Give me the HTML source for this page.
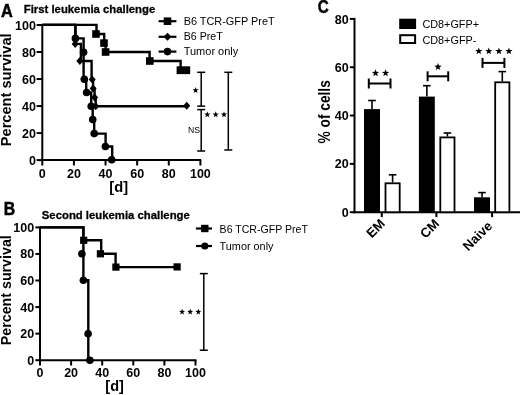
<!DOCTYPE html>
<html><head><meta charset="utf-8"><title>Figure</title>
<style>
html,body{margin:0;padding:0;background:#fff;}
body{width:520px;height:395px;overflow:hidden;font-family:"Liberation Sans",sans-serif;}
svg{display:block;will-change:transform;}
svg text{font-family:"Liberation Sans",sans-serif;fill:#000;}
</style></head><body>
<svg width="520" height="395" viewBox="0 0 520 395">
<rect width="520" height="395" fill="#fff"/>
<line x1="42.3" y1="24.0" x2="42.3" y2="161.1" stroke="#000" stroke-width="2" stroke-linecap="butt"/>
<line x1="41.3" y1="160.1" x2="201.2" y2="160.1" stroke="#000" stroke-width="2" stroke-linecap="butt"/>
<line x1="36.599999999999994" y1="160.1" x2="42.3" y2="160.1" stroke="#000" stroke-width="2" stroke-linecap="butt"/>
<text x="35.9" y="164.7" font-size="12.5" text-anchor="end" font-weight="bold" >0</text>
<line x1="36.599999999999994" y1="133.07999999999998" x2="42.3" y2="133.07999999999998" stroke="#000" stroke-width="2" stroke-linecap="butt"/>
<text x="35.9" y="137.67999999999998" font-size="12.5" text-anchor="end" font-weight="bold" >20</text>
<line x1="36.599999999999994" y1="106.06" x2="42.3" y2="106.06" stroke="#000" stroke-width="2" stroke-linecap="butt"/>
<text x="35.9" y="110.66" font-size="12.5" text-anchor="end" font-weight="bold" >40</text>
<line x1="36.599999999999994" y1="79.03999999999999" x2="42.3" y2="79.03999999999999" stroke="#000" stroke-width="2" stroke-linecap="butt"/>
<text x="35.9" y="83.63999999999999" font-size="12.5" text-anchor="end" font-weight="bold" >60</text>
<line x1="36.599999999999994" y1="52.019999999999996" x2="42.3" y2="52.019999999999996" stroke="#000" stroke-width="2" stroke-linecap="butt"/>
<text x="35.9" y="56.62" font-size="12.5" text-anchor="end" font-weight="bold" >80</text>
<line x1="36.599999999999994" y1="25.0" x2="42.3" y2="25.0" stroke="#000" stroke-width="2" stroke-linecap="butt"/>
<text x="35.9" y="29.6" font-size="12.5" text-anchor="end" font-weight="bold" >100</text>
<line x1="42.3" y1="160.1" x2="42.3" y2="165.5" stroke="#000" stroke-width="2" stroke-linecap="butt"/>
<text x="42.3" y="178.1" font-size="12.5" text-anchor="middle" font-weight="bold" >0</text>
<line x1="73.91999999999999" y1="160.1" x2="73.91999999999999" y2="165.5" stroke="#000" stroke-width="2" stroke-linecap="butt"/>
<text x="73.91999999999999" y="178.1" font-size="12.5" text-anchor="middle" font-weight="bold" >20</text>
<line x1="105.53999999999999" y1="160.1" x2="105.53999999999999" y2="165.5" stroke="#000" stroke-width="2" stroke-linecap="butt"/>
<text x="105.53999999999999" y="178.1" font-size="12.5" text-anchor="middle" font-weight="bold" >40</text>
<line x1="137.16" y1="160.1" x2="137.16" y2="165.5" stroke="#000" stroke-width="2" stroke-linecap="butt"/>
<text x="137.16" y="178.1" font-size="12.5" text-anchor="middle" font-weight="bold" >60</text>
<line x1="168.77999999999997" y1="160.1" x2="168.77999999999997" y2="165.5" stroke="#000" stroke-width="2" stroke-linecap="butt"/>
<text x="168.77999999999997" y="178.1" font-size="12.5" text-anchor="middle" font-weight="bold" >80</text>
<line x1="200.39999999999998" y1="160.1" x2="200.39999999999998" y2="165.5" stroke="#000" stroke-width="2" stroke-linecap="butt"/>
<text x="200.39999999999998" y="178.1" font-size="12.5" text-anchor="middle" font-weight="bold" >100</text>
<text x="118.7" y="191.6" font-size="14.7" text-anchor="middle" font-weight="bold" >[d]</text>
<text x="11.2" y="89.8" font-size="15.0" text-anchor="middle" font-weight="bold" textLength="112.8" lengthAdjust="spacingAndGlyphs" transform="rotate(-90 11.2 89.8)" >Percent survival</text>
<text x="1.1" y="17.0" font-size="17.6" text-anchor="start" font-weight="bold" textLength="11.8" lengthAdjust="spacingAndGlyphs" stroke="#000" stroke-width="0.5">A</text>
<text x="23.8" y="13.1" font-size="11.8" text-anchor="start" font-weight="bold" textLength="131.4" lengthAdjust="spacingAndGlyphs" stroke="#000" stroke-width="0.3">First leukemia challenge</text>
<path d="M42.3,24.9 H75.4 V43.9 H80.9 V61 H91.6 V79.5 H93.1 V88.4 H94.6 V97.4 H95.7 V106.2 H186.7" fill="none" stroke="#000" stroke-width="2.4" stroke-linejoin="miter"/>
<path d="M42.3,24.9 H75.4 V38.4 H83.6 V79.2 H86.2 V92.5 H91.2 V106.2 H92.7 V119.6 H94.2 V133.6 H105.6 V146.5 H112.2 V159.8" fill="none" stroke="#000" stroke-width="2.4" stroke-linejoin="miter"/>
<path d="M42.3,24.9 H96.5 V34 H104.2 V43.1 H105.6 V52 H149.6 V61 H180.6 V70.2 H186" fill="none" stroke="#000" stroke-width="2.4" stroke-linejoin="miter"/>
<polygon points="75.2,39.9 78.7,43.9 75.2,47.9 71.7,43.9" fill="#000"/>
<polygon points="79.8,57.0 83.3,61 79.8,65.0 76.3,61" fill="#000"/>
<polygon points="92.2,75.5 95.7,79.5 92.2,83.5 88.7,79.5" fill="#000"/>
<polygon points="93.1,84.4 96.6,88.4 93.1,92.4 89.6,88.4" fill="#000"/>
<polygon points="94.6,93.4 98.1,97.4 94.6,101.4 91.1,97.4" fill="#000"/>
<polygon points="95.7,102.2 99.2,106.2 95.7,110.2 92.2,106.2" fill="#000"/>
<polygon points="186.7,101.8 190.2,105.8 186.7,109.8 183.2,105.8" fill="#000"/>
<circle cx="75.4" cy="38.4" r="3.8" fill="#000"/>
<circle cx="83.6" cy="52.2" r="3.8" fill="#000"/>
<circle cx="84.3" cy="79.2" r="3.8" fill="#000"/>
<circle cx="86.6" cy="92.5" r="3.8" fill="#000"/>
<circle cx="91.2" cy="106.2" r="3.8" fill="#000"/>
<circle cx="92.7" cy="119.6" r="3.8" fill="#000"/>
<circle cx="94.2" cy="133.6" r="3.8" fill="#000"/>
<circle cx="105.4" cy="146.5" r="3.8" fill="#000"/>
<circle cx="111.7" cy="159.8" r="3.8" fill="#000"/>
<rect x="92.2" y="30.2" width="7.6" height="7.6" fill="#000"/>
<rect x="100.2" y="39.300000000000004" width="7.6" height="7.6" fill="#000"/>
<rect x="101.8" y="48.2" width="7.6" height="7.6" fill="#000"/>
<rect x="146.0" y="57.2" width="7.6" height="7.6" fill="#000"/>
<rect x="176.6" y="66.3" width="13.6" height="7.8" fill="#000"/>
<line x1="158.6" y1="21.2" x2="176.4" y2="21.2" stroke="#000" stroke-width="2.2" stroke-linecap="butt"/>
<line x1="158.6" y1="36.8" x2="176.4" y2="36.8" stroke="#000" stroke-width="2.2" stroke-linecap="butt"/>
<line x1="158.6" y1="51.6" x2="176.4" y2="51.6" stroke="#000" stroke-width="2.2" stroke-linecap="butt"/>
<rect x="163.7" y="17.4" width="7.6" height="7.6" fill="#000"/>
<polygon points="167.5,32.8 171.5,36.8 167.5,40.8 163.5,36.8" fill="#000"/>
<circle cx="167.5" cy="51.6" r="3.8" fill="#000"/>
<text x="183.7" y="24.7" font-size="11" text-anchor="start" textLength="91" lengthAdjust="spacingAndGlyphs" >B6 TCR-GFP PreT</text>
<text x="183.7" y="40" font-size="11" text-anchor="start" textLength="39" lengthAdjust="spacingAndGlyphs" >B6 PreT</text>
<text x="183.7" y="55.4" font-size="11" text-anchor="start" textLength="54.6" lengthAdjust="spacingAndGlyphs" >Tumor only</text>
<line x1="201.2" y1="72.3" x2="201.2" y2="106.1" stroke="#000" stroke-width="1.5" stroke-linecap="butt"/>
<line x1="197.2" y1="72.3" x2="205.2" y2="72.3" stroke="#000" stroke-width="1.5" stroke-linecap="butt"/>
<line x1="197.2" y1="106.1" x2="205.2" y2="106.1" stroke="#000" stroke-width="1.5" stroke-linecap="butt"/>
<line x1="201.2" y1="109.6" x2="201.2" y2="151.0" stroke="#000" stroke-width="1.5" stroke-linecap="butt"/>
<line x1="197.2" y1="109.6" x2="205.2" y2="109.6" stroke="#000" stroke-width="1.5" stroke-linecap="butt"/>
<line x1="197.2" y1="151.0" x2="205.2" y2="151.0" stroke="#000" stroke-width="1.5" stroke-linecap="butt"/>
<line x1="228.3" y1="72.3" x2="228.3" y2="150.0" stroke="#000" stroke-width="1.5" stroke-linecap="butt"/>
<line x1="224.3" y1="72.3" x2="232.3" y2="72.3" stroke="#000" stroke-width="1.5" stroke-linecap="butt"/>
<line x1="224.3" y1="150.0" x2="232.3" y2="150.0" stroke="#000" stroke-width="1.5" stroke-linecap="butt"/>
<polygon points="195.60,87.00 196.40,89.21 198.74,89.28 196.89,90.72 197.54,92.97 195.60,91.65 193.66,92.97 194.31,90.72 192.46,89.28 194.80,89.21" fill="#000"/>
<polygon points="207.30,111.30 208.10,113.51 210.44,113.58 208.59,115.02 209.24,117.27 207.30,115.95 205.36,117.27 206.01,115.02 204.16,113.58 206.50,113.51" fill="#000"/>
<polygon points="215.70,111.30 216.50,113.51 218.84,113.58 216.99,115.02 217.64,117.27 215.70,115.95 213.76,117.27 214.41,115.02 212.56,113.58 214.90,113.51" fill="#000"/>
<polygon points="224.00,111.30 224.80,113.51 227.14,113.58 225.29,115.02 225.94,117.27 224.00,115.95 222.06,117.27 222.71,115.02 220.86,113.58 223.20,113.51" fill="#000"/>
<text x="187.9" y="132.5" font-size="9.6" text-anchor="start" textLength="12.1" lengthAdjust="spacingAndGlyphs" >NS</text>
<line x1="40" y1="226.4" x2="40" y2="361.2" stroke="#000" stroke-width="2" stroke-linecap="butt"/>
<line x1="39" y1="360.2" x2="196.5" y2="360.2" stroke="#000" stroke-width="2" stroke-linecap="butt"/>
<line x1="35.4" y1="360.2" x2="40" y2="360.2" stroke="#000" stroke-width="2" stroke-linecap="butt"/>
<text x="34.2" y="364.7" font-size="12.5" text-anchor="end" font-weight="bold" >0</text>
<line x1="35.4" y1="333.64" x2="40" y2="333.64" stroke="#000" stroke-width="2" stroke-linecap="butt"/>
<text x="34.2" y="338.14" font-size="12.5" text-anchor="end" font-weight="bold" >20</text>
<line x1="35.4" y1="307.08" x2="40" y2="307.08" stroke="#000" stroke-width="2" stroke-linecap="butt"/>
<text x="34.2" y="311.58" font-size="12.5" text-anchor="end" font-weight="bold" >40</text>
<line x1="35.4" y1="280.52" x2="40" y2="280.52" stroke="#000" stroke-width="2" stroke-linecap="butt"/>
<text x="34.2" y="285.02" font-size="12.5" text-anchor="end" font-weight="bold" >60</text>
<line x1="35.4" y1="253.96" x2="40" y2="253.96" stroke="#000" stroke-width="2" stroke-linecap="butt"/>
<text x="34.2" y="258.46000000000004" font-size="12.5" text-anchor="end" font-weight="bold" >80</text>
<line x1="35.4" y1="227.4" x2="40" y2="227.4" stroke="#000" stroke-width="2" stroke-linecap="butt"/>
<text x="34.2" y="231.9" font-size="12.5" text-anchor="end" font-weight="bold" >100</text>
<line x1="40.0" y1="360.2" x2="40.0" y2="365.5" stroke="#000" stroke-width="2" stroke-linecap="butt"/>
<text x="40.0" y="377.3" font-size="12.5" text-anchor="middle" font-weight="bold" >0</text>
<line x1="71.1" y1="360.2" x2="71.1" y2="365.5" stroke="#000" stroke-width="2" stroke-linecap="butt"/>
<text x="71.1" y="377.3" font-size="12.5" text-anchor="middle" font-weight="bold" >20</text>
<line x1="102.19999999999999" y1="360.2" x2="102.19999999999999" y2="365.5" stroke="#000" stroke-width="2" stroke-linecap="butt"/>
<text x="102.19999999999999" y="377.3" font-size="12.5" text-anchor="middle" font-weight="bold" >40</text>
<line x1="133.3" y1="360.2" x2="133.3" y2="365.5" stroke="#000" stroke-width="2" stroke-linecap="butt"/>
<text x="133.3" y="377.3" font-size="12.5" text-anchor="middle" font-weight="bold" >60</text>
<line x1="164.39999999999998" y1="360.2" x2="164.39999999999998" y2="365.5" stroke="#000" stroke-width="2" stroke-linecap="butt"/>
<text x="164.39999999999998" y="377.3" font-size="12.5" text-anchor="middle" font-weight="bold" >80</text>
<line x1="195.5" y1="360.2" x2="195.5" y2="365.5" stroke="#000" stroke-width="2" stroke-linecap="butt"/>
<text x="195.5" y="377.3" font-size="12.5" text-anchor="middle" font-weight="bold" >100</text>
<text x="114.6" y="391.2" font-size="14.5" text-anchor="middle" font-weight="bold" >[d]</text>
<text x="10.9" y="290.2" font-size="15" text-anchor="middle" font-weight="bold" textLength="109.9" lengthAdjust="spacingAndGlyphs" transform="rotate(-90 10.9 290.2)" >Percent survival</text>
<text x="3.8" y="215.0" font-size="18.2" text-anchor="start" font-weight="bold" textLength="11.4" lengthAdjust="spacingAndGlyphs" stroke="#000" stroke-width="0.5">B</text>
<text x="41.8" y="218.8" font-size="11.8" text-anchor="start" font-weight="bold" textLength="148" lengthAdjust="spacingAndGlyphs" stroke="#000" stroke-width="0.3">Second leukemia challenge</text>
<path d="M40,227.4 H83.4 V280.2 H88.3 V360.3" fill="none" stroke="#000" stroke-width="2.4" stroke-linejoin="miter"/>
<path d="M40,227.4 H83.4 V240.3 H101.2 V253.8 H115.6 V267.1 H177" fill="none" stroke="#000" stroke-width="2.4" stroke-linejoin="miter"/>
<circle cx="81.9" cy="253.8" r="3.8" fill="#000"/>
<circle cx="83.4" cy="280.2" r="3.8" fill="#000"/>
<circle cx="88.1" cy="333.7" r="3.8" fill="#000"/>
<circle cx="89.9" cy="360.3" r="3.8" fill="#000"/>
<rect x="80.10000000000001" y="236.70000000000002" width="7.2" height="7.2" fill="#000"/>
<rect x="96.80000000000001" y="250.20000000000002" width="7.2" height="7.2" fill="#000"/>
<rect x="112.30000000000001" y="263.5" width="7.2" height="7.2" fill="#000"/>
<rect x="173.5" y="263.29999999999995" width="7.2" height="7.2" fill="#000"/>
<line x1="195.9" y1="228.5" x2="212" y2="228.5" stroke="#000" stroke-width="2.2" stroke-linecap="butt"/>
<line x1="195.9" y1="246" x2="212" y2="246" stroke="#000" stroke-width="2.2" stroke-linecap="butt"/>
<rect x="201.10000000000002" y="224.8" width="7.4" height="7.4" fill="#000"/>
<circle cx="204.8" cy="246" r="3.6" fill="#000"/>
<text x="219.6" y="232.5" font-size="10.5" text-anchor="start" textLength="88.3" lengthAdjust="spacingAndGlyphs" >B6 TCR-GFP PreT</text>
<text x="219.6" y="249.5" font-size="10.5" text-anchor="start" textLength="53.9" lengthAdjust="spacingAndGlyphs" >Tumor only</text>
<line x1="203.8" y1="273.6" x2="203.8" y2="350.2" stroke="#000" stroke-width="1.5" stroke-linecap="butt"/>
<line x1="199.8" y1="273.6" x2="207.8" y2="273.6" stroke="#000" stroke-width="1.5" stroke-linecap="butt"/>
<line x1="199.8" y1="350.2" x2="207.8" y2="350.2" stroke="#000" stroke-width="1.5" stroke-linecap="butt"/>
<polygon points="182.10,308.70 182.87,310.84 185.14,310.91 183.35,312.31 183.98,314.49 182.10,313.21 180.22,314.49 180.85,312.31 179.06,310.91 181.33,310.84" fill="#000"/>
<polygon points="190.20,308.70 190.97,310.84 193.24,310.91 191.45,312.31 192.08,314.49 190.20,313.21 188.32,314.49 188.95,312.31 187.16,310.91 189.43,310.84" fill="#000"/>
<polygon points="198.30,308.70 199.07,310.84 201.34,310.91 199.55,312.31 200.18,314.49 198.30,313.21 196.42,314.49 197.05,312.31 195.26,310.91 197.53,310.84" fill="#000"/>
<line x1="354.5" y1="17.9" x2="354.5" y2="213.2" stroke="#000" stroke-width="2" stroke-linecap="butt"/>
<line x1="353.5" y1="212.2" x2="520" y2="212.2" stroke="#000" stroke-width="2" stroke-linecap="butt"/>
<line x1="349.8" y1="212.2" x2="354.5" y2="212.2" stroke="#000" stroke-width="2" stroke-linecap="butt"/>
<text x="348.6" y="216.79999999999998" font-size="12.5" text-anchor="end" font-weight="bold" >0</text>
<line x1="349.8" y1="163.875" x2="354.5" y2="163.875" stroke="#000" stroke-width="2" stroke-linecap="butt"/>
<text x="348.6" y="168.475" font-size="12.5" text-anchor="end" font-weight="bold" >20</text>
<line x1="349.8" y1="115.55" x2="354.5" y2="115.55" stroke="#000" stroke-width="2" stroke-linecap="butt"/>
<text x="348.6" y="120.14999999999999" font-size="12.5" text-anchor="end" font-weight="bold" >40</text>
<line x1="349.8" y1="67.225" x2="354.5" y2="67.225" stroke="#000" stroke-width="2" stroke-linecap="butt"/>
<text x="348.6" y="71.82499999999999" font-size="12.5" text-anchor="end" font-weight="bold" >60</text>
<line x1="349.8" y1="18.900000000000006" x2="354.5" y2="18.900000000000006" stroke="#000" stroke-width="2" stroke-linecap="butt"/>
<text x="348.6" y="23.500000000000007" font-size="12.5" text-anchor="end" font-weight="bold" >80</text>
<line x1="381.8" y1="212.2" x2="381.8" y2="217.1" stroke="#000" stroke-width="2" stroke-linecap="butt"/>
<line x1="436.4" y1="212.2" x2="436.4" y2="217.1" stroke="#000" stroke-width="2" stroke-linecap="butt"/>
<line x1="492.1" y1="212.2" x2="492.1" y2="217.1" stroke="#000" stroke-width="2" stroke-linecap="butt"/>
<text x="330.3" y="111.8" font-size="16" text-anchor="middle" font-weight="bold" textLength="63.2" lengthAdjust="spacingAndGlyphs" transform="rotate(-90 330.3 111.8)" >% of cells</text>
<text x="317.8" y="13.0" font-size="18.2" text-anchor="start" font-weight="bold" textLength="11.0" lengthAdjust="spacingAndGlyphs" stroke="#000" stroke-width="0.5">C</text>
<line x1="372.0" y1="100.5" x2="372.0" y2="109.1" stroke="#000" stroke-width="1.6" stroke-linecap="butt"/>
<line x1="368.2" y1="100.5" x2="375.8" y2="100.5" stroke="#000" stroke-width="1.6" stroke-linecap="butt"/>
<rect x="364.0" y="109.1" width="16.0" height="103.1" fill="#000"/>
<line x1="392.6" y1="174.8" x2="392.6" y2="182.4" stroke="#000" stroke-width="1.6" stroke-linecap="butt"/>
<line x1="388.8" y1="174.8" x2="396.40000000000003" y2="174.8" stroke="#000" stroke-width="1.6" stroke-linecap="butt"/>
<rect x="385.5" y="183.3" width="14.2" height="28.899999999999984" fill="#fff" stroke="#000" stroke-width="1.8"/>
<line x1="426.85" y1="85.7" x2="426.85" y2="96.6" stroke="#000" stroke-width="1.6" stroke-linecap="butt"/>
<line x1="423.05" y1="85.7" x2="430.65000000000003" y2="85.7" stroke="#000" stroke-width="1.6" stroke-linecap="butt"/>
<rect x="418.9" y="96.6" width="15.900000000000034" height="115.6" fill="#000"/>
<line x1="447.4" y1="133.0" x2="447.4" y2="136.5" stroke="#000" stroke-width="1.6" stroke-linecap="butt"/>
<line x1="443.59999999999997" y1="133.0" x2="451.2" y2="133.0" stroke="#000" stroke-width="1.6" stroke-linecap="butt"/>
<rect x="440.29999999999995" y="137.4" width="14.2" height="74.79999999999998" fill="#fff" stroke="#000" stroke-width="1.8"/>
<line x1="482.0" y1="192.6" x2="482.0" y2="197.3" stroke="#000" stroke-width="1.6" stroke-linecap="butt"/>
<line x1="478.2" y1="192.6" x2="485.8" y2="192.6" stroke="#000" stroke-width="1.6" stroke-linecap="butt"/>
<rect x="474.0" y="197.3" width="16.0" height="14.899999999999977" fill="#000"/>
<line x1="502.3" y1="71.6" x2="502.3" y2="81.4" stroke="#000" stroke-width="1.6" stroke-linecap="butt"/>
<line x1="498.5" y1="71.6" x2="506.1" y2="71.6" stroke="#000" stroke-width="1.6" stroke-linecap="butt"/>
<rect x="495.2" y="82.30000000000001" width="14.2" height="129.89999999999998" fill="#fff" stroke="#000" stroke-width="1.8"/>
<rect x="399.2" y="18.7" width="16.9" height="10.3" fill="#000"/>
<rect x="400.2" y="35.2" width="14.9" height="7.8" fill="#fff" stroke="#000" stroke-width="2"/>
<text x="422.4" y="28" font-size="11.5" text-anchor="start" textLength="56.6" lengthAdjust="spacingAndGlyphs" >CD8+GFP+</text>
<text x="422.4" y="43.6" font-size="11.5" text-anchor="start" textLength="54" lengthAdjust="spacingAndGlyphs" >CD8+GFP-</text>
<line x1="368.8" y1="83.5" x2="390.5" y2="83.5" stroke="#000" stroke-width="2" stroke-linecap="butt"/>
<line x1="368.8" y1="78.5" x2="368.8" y2="88.5" stroke="#000" stroke-width="2" stroke-linecap="butt"/>
<line x1="390.5" y1="78.5" x2="390.5" y2="88.5" stroke="#000" stroke-width="2" stroke-linecap="butt"/>
<line x1="427.6" y1="76.3" x2="448.2" y2="76.3" stroke="#000" stroke-width="2" stroke-linecap="butt"/>
<line x1="427.6" y1="71.3" x2="427.6" y2="81.3" stroke="#000" stroke-width="2" stroke-linecap="butt"/>
<line x1="448.2" y1="71.3" x2="448.2" y2="81.3" stroke="#000" stroke-width="2" stroke-linecap="butt"/>
<line x1="482.5" y1="62.9" x2="504.4" y2="62.9" stroke="#000" stroke-width="2" stroke-linecap="butt"/>
<line x1="482.5" y1="57.9" x2="482.5" y2="67.9" stroke="#000" stroke-width="2" stroke-linecap="butt"/>
<line x1="504.4" y1="57.9" x2="504.4" y2="67.9" stroke="#000" stroke-width="2" stroke-linecap="butt"/>
<polygon points="375.50,69.20 376.44,71.81 379.21,71.89 377.02,73.59 377.79,76.26 375.50,74.70 373.21,76.26 373.98,73.59 371.79,71.89 374.56,71.81" fill="#000"/>
<polygon points="385.60,69.20 386.54,71.81 389.31,71.89 387.12,73.59 387.89,76.26 385.60,74.70 383.31,76.26 384.08,73.59 381.89,71.89 384.66,71.81" fill="#000"/>
<polygon points="438.00,63.00 438.94,65.61 441.71,65.69 439.52,67.39 440.29,70.06 438.00,68.50 435.71,70.06 436.48,67.39 434.29,65.69 437.06,65.61" fill="#000"/>
<polygon points="478.80,47.40 479.72,49.94 482.41,50.03 480.28,51.68 481.03,54.27 478.80,52.76 476.57,54.27 477.32,51.68 475.19,50.03 477.88,49.94" fill="#000"/>
<polygon points="488.80,47.40 489.72,49.94 492.41,50.03 490.28,51.68 491.03,54.27 488.80,52.76 486.57,54.27 487.32,51.68 485.19,50.03 487.88,49.94" fill="#000"/>
<polygon points="498.90,47.40 499.82,49.94 502.51,50.03 500.38,51.68 501.13,54.27 498.90,52.76 496.67,54.27 497.42,51.68 495.29,50.03 497.98,49.94" fill="#000"/>
<polygon points="508.90,47.40 509.82,49.94 512.51,50.03 510.38,51.68 511.13,54.27 508.90,52.76 506.67,54.27 507.42,51.68 505.29,50.03 507.98,49.94" fill="#000"/>
<text x="385.7" y="224.5" font-size="13.2" text-anchor="end" font-weight="bold" transform="rotate(-45 385.7 224.5)" >EM</text>
<text x="440.0" y="224.5" font-size="13.2" text-anchor="end" font-weight="bold" transform="rotate(-45 440.0 224.5)" >CM</text>
<text x="493.2" y="226.7" font-size="13.2" text-anchor="end" font-weight="bold" transform="rotate(-45 493.2 226.7)" >Naive</text>
</svg>
</body></html>
